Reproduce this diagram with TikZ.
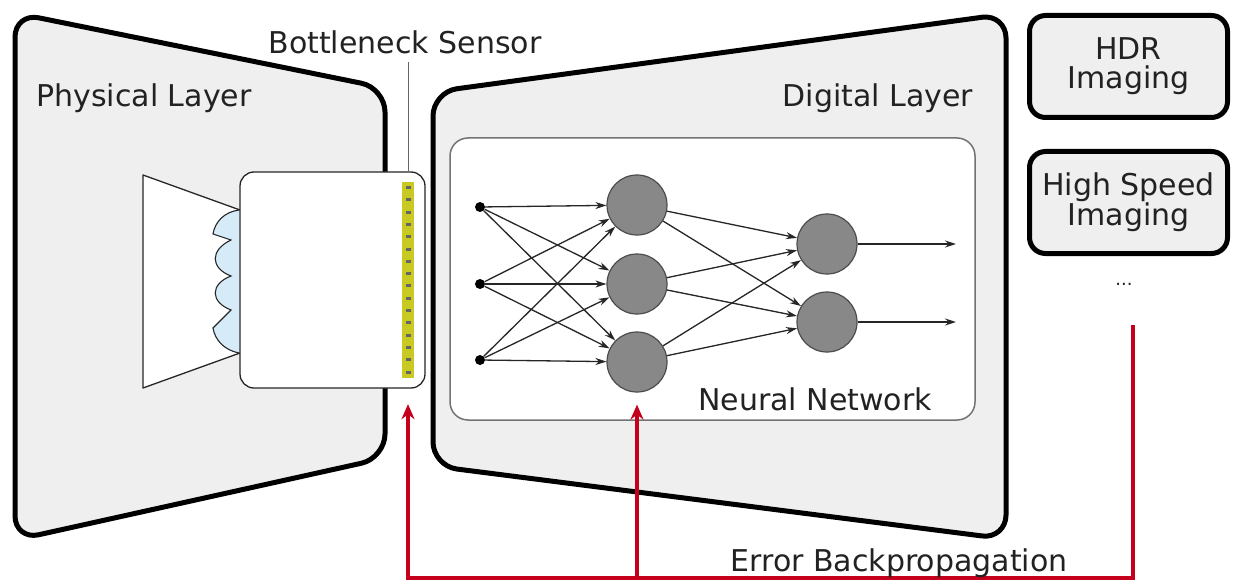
\documentclass[tikz,border=0pt]{standalone}
\usepackage{fontspec}
\setmainfont{DejaVu Sans}
\usetikzlibrary{arrows.meta}
\definecolor{layerfill}{HTML}{EFEFEF}
\definecolor{errred}{HTML}{C4001C}
\definecolor{neurongray}{HTML}{888888}
\definecolor{sensoryellow}{HTML}{C9C924}
\definecolor{lensblue}{HTML}{D5EBF8}
\definecolor{txt}{HTML}{222222}

\begin{document}
\begin{tikzpicture}[x=1pt,y=-1pt,
  layer/.style={draw=black, line width=5pt, fill=layerfill, rounded corners=24pt, line join=round},
  caption/.style={font=\fontsize{30}{30}\selectfont, text=txt, inner sep=0pt},
  appbox/.style={draw=black, line width=5pt, fill=layerfill, rounded corners=16pt,
    minimum width=198pt, minimum height=102pt, align=center, inner sep=0pt,
    font=\fontsize{30}{29}\selectfont, text=txt},
  neuron/.style={circle, draw=black!70, line width=1.2pt, fill=neurongray, minimum size=60pt, inner sep=0pt},
  inputdot/.style={circle, fill=black, minimum size=10pt, inner sep=0pt},
  link/.style={-{Stealth[length=11pt,width=7pt]}, line width=1.3pt, black!85},
  backprop/.style={draw=errred, line width=4pt},
  backtip/.style={backprop, -{Stealth[length=15pt,width=13pt]}},
  thinline/.style={draw=black!85, line width=1.3pt},
]
\useasboundingbox (0,0) rectangle (1233,588);
\fill[white] (0,0) rectangle (1233,588);

% the two layers
\draw[layer] (15,13) -- (385,88) -- (385,458) -- (15,540) -- cycle;
\draw[layer] (433,92) -- (1006,14) -- (1006,539) -- (433,466) -- cycle;
\node[caption] (phys) at (144,98) {Physical Layer};
\node[caption] (dig) at (878,98) {Digital Layer};

% camera body and lens stack
\draw[thinline, fill=white, line join=round] (240,210) -- (143,175) -- (143,388) -- (240,353);
\fill[lensblue] (239,210) .. controls (224,212) and (215,222) .. (213,234)
  -- (231,240) .. controls (210,250) and (210,268) .. (231,276)
  .. controls (210,284) and (210,302) .. (231,310)
  -- (213,328) .. controls (215,340) and (224,350) .. (239,353) -- cycle;
\draw[thinline, line width=1.1pt] (239,210) .. controls (224,212) and (215,222) .. (213,234)
  -- (231,240) .. controls (210,250) and (210,268) .. (231,276)
  .. controls (210,284) and (210,302) .. (231,310)
  -- (213,328) .. controls (215,340) and (224,350) .. (239,353);

% optics box with the bottleneck sensor strip
\node[thinline, fill=white, rounded corners=14pt, minimum width=185pt, minimum height=216pt, inner sep=0pt] (optics) at (332.5,280) {};
\node[fill=sensoryellow, minimum width=12pt, minimum height=196pt, inner sep=0pt] (strip) at (408,280) {};
\foreach \k in {0,...,15}
  \fill[black!60] (405.5,186+12.3*\k) rectangle ++(5,3);

\node[caption] (bneck) at (405,42) {Bottleneck Sensor};
\coordinate (bneckfoot) at (408,62);
\draw[black!60, line width=1pt] (bneckfoot) -- (bneckfoot |- optics.north);

% neural network
\node[draw=black!55, line width=1.5pt, fill=white, rounded corners=18pt,
  minimum width=525pt, minimum height=282pt, inner sep=0pt] (nnbox) at (712.5,279) {};
\node[inputdot] (i1) at (480,207) {};
\node[inputdot] (i2) at (480,284) {};
\node[inputdot] (i3) at (480,360) {};
\node[neuron] (h1) at (637,205) {};
\node[neuron] (h2) at (637,284) {};
\node[neuron] (h3) at (637,362) {};
\node[neuron] (o1) at (827,244) {};
\node[neuron] (o2) at (827,322) {};
\coordinate (y1) at (956,244);
\coordinate (y2) at (956,322);
\foreach \a in {i1,i2,i3}
  \foreach \b in {h1,h2,h3}
    \draw[link] (\a) -- (\b);
\foreach \a in {h1,h2,h3}
  \foreach \b in {o1,o2}
    \draw[link] (\a) -- (\b);
\draw[link] (o1) -- (y1);
\draw[link] (o2) -- (y2);
\node[caption] (nnlabel) at (815,399) {Neural Network};

% applications
\node[appbox] (hdr) at (1128.5,66.5) {HDR\\Imaging};
\node[appbox] (hsi) at (1128.5,202.5) {High Speed\\Imaging};
\node[caption, font=\fontsize{18}{18}\selectfont] (more) at (1124,284) {...};

% error backpropagation
\coordinate (errstart) at (1133,325);
\coordinate (errbase) at (408,578);
\draw[backtip, shorten >=26pt] (errstart) -- (errstart |- errbase) -- (errbase) -- (strip.south);
\draw[backtip, shorten >=12pt] (errbase -| h3) -- (h3.south);
\node[caption] (errlabel) at (899,563) {Error Backpropagation};
\end{tikzpicture}
\end{document}
